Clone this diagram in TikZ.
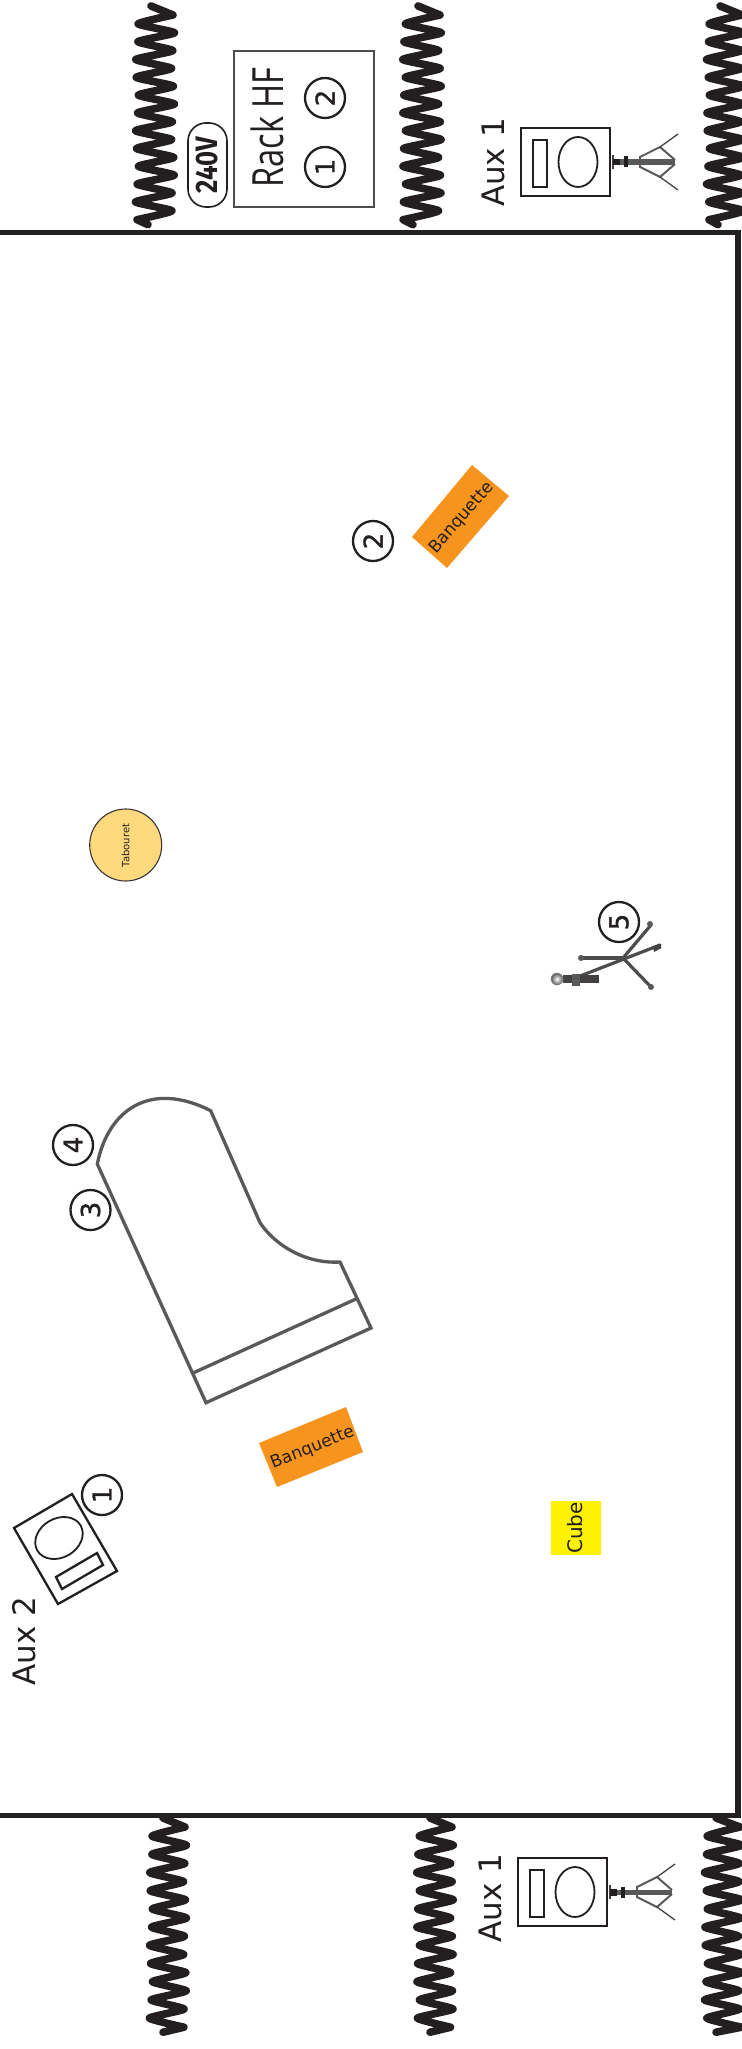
\documentclass[tikz,border=0pt]{standalone}
\usepackage{fontspec}
\setmainfont{DejaVu Sans}
\newfontfamily\rackfont{Open Sans}
\newfontfamily\digitfont[FakeBold=1.2]{DejaVu Sans}
\newfontfamily\boldcond{Fira Sans}[BoldFont=Fira Sans Bold]
\definecolor{ink}{HTML}{231F20}
\definecolor{pianoline}{HTML}{58595B}
\definecolor{bench}{HTML}{F7941E}
\definecolor{stool}{HTML}{FFD97D}
\definecolor{cubeY}{HTML}{FFF200}
\tikzset{
  x=1pt,y=1pt,
  wall/.style={draw=ink,line width=5.4pt,miter limit=4},
  curtainline/.style={draw=ink,line width=7.6pt,line cap=round,line join=round},
  numcircle/.style={circle,draw=ink,line width=2.3pt,minimum size=40pt,inner sep=0pt,
     font=\digitfont\fontsize{26}{26}\selectfont,text=ink},
  label/.style={rotate=90,inner sep=0pt,text=ink},
  speakerline/.style={draw=ink,line width=2.3pt},
  pianostroke/.style={draw=pianoline,line width=3.3pt,line join=miter},
  benchfill/.style={fill=bench,draw=none},
  standdark/.style={draw=ink!85!white,line width=1.3pt},
  standgrey/.style={draw=pianoline,line width=2pt},
  micleg/.style={draw=pianoline!85!black,line width=3.2pt,line cap=round},
}
% x centre, half amplitude, y of first right tip (positive = down), half periods, step, wobble phase
\newcommand{\curtain}[8]{%
  \draw[curtainline] (#7,{-(#3-9)})
    -- plot[smooth,tension=.3,variable=\t,samples at={0,...,#4}]
      ({#1+#2*cos(180*\t)+1.5*sin(\t*#6)},{-(#3+#5*\t)})
    -- (#8,{-(#3+#5*#4+5)});%
}
\newcommand{\speakerset}{%
  \draw[speakerline] (521,-128) rectangle (610,-196);
  \draw[speakerline] (533,-140) rectangle (547,-187);
  \draw[speakerline,line width=1.8pt] (578,-162) ellipse [x radius=19.5,y radius=25];
  \draw[standdark,line width=2.2pt] (613,-155) -- (613,-169);
  \fill[pianoline] (613,-159.5) rectangle (675,-165);
  \fill[ink] (613,-159) rectangle (620,-165.5);
  \fill[ink] (624,-156.5) rectangle (628,-167.5);
  \draw[standgrey] (640,-156) -- (640,-168);
  \draw[standgrey] (640,-157) -- (660,-147) -- (675,-160);
  \draw[standgrey] (640,-167) -- (660,-177) -- (675,-164);
  \draw[standdark] (660,-147) -- (678,-134);
  \draw[standdark] (660,-177) -- (678,-190);
}
\begin{document}
\begin{tikzpicture}
\useasboundingbox (0,0) rectangle (741,-2049);
\fill[white] (0,0) rectangle (741,-2049);
% room
\draw[wall] (-5,-232.5) -- (737.8,-232.5) -- (737.8,-1815.5) -- (-5,-1815.5);
% curtains top
\curtain{155}{18}{15}{23}{8.9}{47}{151}{148}
\curtain{422}{18}{15}{23}{8.9}{61}{418}{413}
\curtain{725}{17}{15}{23}{8.9}{53}{720}{718}
% curtains bottom
\curtain{168}{17}{1827}{22}{9.1}{47}{163}{163}
\curtain{435}{17}{1827}{22}{9.1}{61}{430}{430}
\curtain{723}{17}{1827}{22}{9.1}{53}{716}{716}
% power and rack
\node[draw=ink,line width=1.6pt,rounded corners=18pt,minimum width=84pt,minimum height=39pt,
  rotate=90,inner sep=0pt,font=\boldcond\bfseries\fontsize{31}{31}\selectfont,text=ink] (power) at (207.5,-165)
  {\scalebox{0.83}[1]{240V}};
\node[draw=ink!80!white,line width=2.2pt,minimum width=140pt,minimum height=156pt,inner sep=0pt] (rack) at (304,-129) {};
\node[label,font=\rackfont\fontsize{43}{43}\selectfont] (racktext) at (267,-127.5) {\scalebox{0.76}[1]{Rack HF}};
\node[numcircle,rotate=90] (rack1) at (325,-167) {1};
\node[numcircle,rotate=90] (rack2) at (325,-98) {2};
% Aux 1 top
\node[label,font=\fontsize{31}{31}\selectfont] (auxa) at (493,-162.5) {Aux 1};
\speakerset
% Aux 1 bottom
\node[label,font=\fontsize{31}{31}\selectfont] (auxb) at (490,-1898) {Aux 1};
\begin{scope}[shift={(-3,-1730)}]\speakerset\end{scope}
% bench 2
\fill[benchfill] (472,-465) -- (509,-496) -- (447,-568) -- (412,-537) -- cycle;
\node[rotate=49,inner sep=0pt,text=ink,font=\fontsize{17}{17}\selectfont] (bench2) at (462,-518) {Banquette};
\node[numcircle,rotate=90] (n2) at (373,-541) {2};
% stool
\node[circle,fill=stool,draw=ink!90!white,line width=1.1pt,minimum size=72pt,inner sep=0pt] (stool) at (125.7,-845) {};
\node[label,font=\fontsize{10}{10}\selectfont] (stooltext) at (125.7,-845.5) {Tabouret};
% mic stand
\coordinate (micj) at (623,-958);
\coordinate (mica) at (651,-925);
\coordinate (micb) at (582,-958);
\coordinate (micc) at (651,-987);
\coordinate (micd) at (660,-945);
\coordinate (mice) at (575,-978);
\draw[micleg] (micj) -- (mica);
\draw[micleg] (micj) -- (micb);
\draw[micleg] (micj) -- (micc);
\draw[micleg] (mice) -- (micd);
\fill[ink!85!white] (563,-975) rectangle (599,-983);
\fill[pianoline] (572,-973.5) rectangle (580,-986);
\fill[ink!85!white] (653,-947) -- (660,-943.5) -- (661.5,-948) -- (654,-952) -- cycle;
\fill[pianoline] (650,-924) circle (3) (651,-987) circle (3) (581,-958) circle (3);
\node[circle,draw=pianoline!70!white,shade,inner color=white,outer color=pianoline,line width=.6pt,minimum size=12pt,inner sep=0pt] (mic) at (557,-979) {};
\node[numcircle,rotate=90] (n5) at (619,-922) {5};
% piano
\draw[pianostroke] (97.3,-1164) .. controls (108,-1110) and (150,-1080) .. (210.7,-1110.7)
  -- (260,-1222.7) .. controls (275,-1245) and (305,-1264) .. (340,-1262)
  -- (371,-1328) -- (206,-1402.7) -- cycle;
\draw[pianostroke] (193,-1373) -- (356,-1299);
\node[numcircle,rotate=90] (n4) at (73,-1145) {4};
\node[numcircle,rotate=90] (n3) at (90.5,-1210) {3};
% bench 1
\fill[benchfill] (346,-1407) -- (363,-1452) -- (277,-1487) -- (259,-1443) -- cycle;
\node[rotate=22,inner sep=0pt,text=ink,font=\fontsize{17}{17}\selectfont] (bench1) at (312.5,-1448) {Banquette};
% Aux 2
\draw[speakerline] (72,-1494) -- (117,-1571) -- (58,-1604) -- (14,-1528) -- cycle;
\draw[speakerline] (97,-1553) -- (103,-1565) -- (62,-1589) -- (56,-1577) -- cycle;
\draw[speakerline,line width=1.8pt,rotate around={30:(59,-1538)}] (59,-1538) ellipse [x radius=25,y radius=19.5];
\node[numcircle,rotate=90] (n1) at (102,-1495) {1};
\node[label,font=\fontsize{31}{31}\selectfont] (auxc) at (24,-1641) {Aux 2};
% cube
\node[fill=cubeY,minimum width=50pt,minimum height=54pt,inner sep=0pt] (cube) at (576,-1528) {};
\node[label,font=\fontsize{20}{20}\selectfont] (cubetext) at (575,-1528) {Cube};
\end{tikzpicture}
\end{document}
